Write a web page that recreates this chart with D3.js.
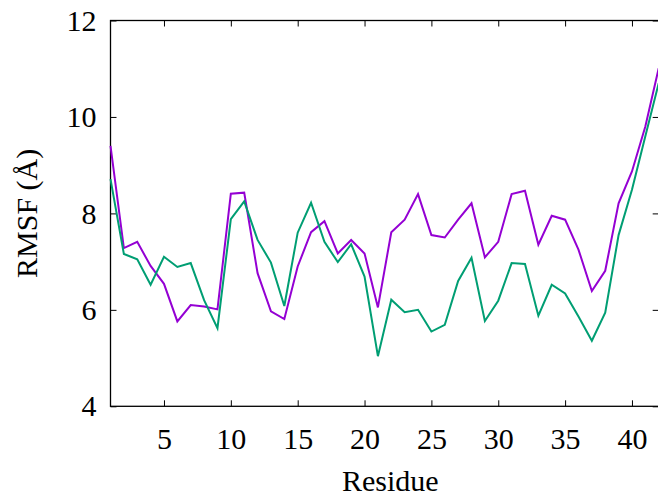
<!DOCTYPE html>
<html>
<head>
<meta charset="utf-8">
<script src="https://cdn.jsdelivr.net/npm/d3@7"></script>
<style>
  body { margin: 0; background: #fff; }
  svg text { font-family: "Liberation Serif", "DejaVu Serif", serif; fill: #000; }
</style>
</head>
<body>
<svg id="chart" width="658" height="498"></svg>
<script>
// residue numbers and RMSF values
var residues = [1,2,3,4,5,6,7,8,9,10,11,12,13,14,15,16,17,18,19,20,21,
                22,23,24,25,26,27,28,29,30,31,32,33,34,35,36,37,38,39,40,41,42];
var rmsfPurple = [9.40,7.28,7.41,6.91,6.54,5.76,6.10,6.07,6.01,8.41,8.43,6.76,5.97,5.81,
                  6.90,7.61,7.84,7.17,7.45,7.17,6.05,7.61,7.87,8.40,7.55,7.50,7.87,8.21,
                  7.09,7.41,8.40,8.47,7.35,7.95,7.87,7.25,6.39,6.81,8.21,8.87,9.80,11.01];
var rmsfGreen = [8.71,7.16,7.05,6.52,7.10,6.89,6.97,6.20,5.62,7.88,8.25,7.45,6.98,6.08,
                 7.60,8.22,7.41,6.99,7.36,6.69,5.04,6.21,5.95,6.00,5.55,5.69,6.60,7.08,
                 5.77,6.19,6.97,6.95,5.88,6.52,6.34,5.86,5.36,5.94,7.55,8.49,9.60,10.70];
var xTicks = [5,10,15,20,25,30,35,40];
var yTicks = [4,6,8,10,12];

// plot frame (note: "top" is reserved on window, so use plot* names)
var plotLeft = 110.5, plotRight = 658.7, plotTop = 20.5, plotBottom = 406.3;

var svg = d3.select("#chart");

var x = d3.scaleLinear().domain([1, 42]).range([plotLeft, plotRight]);
var y = d3.scaleLinear().domain([4, 12]).range([plotBottom, plotTop]);

// axes with inward ticks on all four sides (gnuplot style)
var xAxis = svg.append("g")
    .attr("transform", "translate(0," + plotBottom + ")")
    .call(d3.axisBottom(x).tickValues(xTicks).tickSizeInner(-6).tickSizeOuter(0).tickPadding(14));
var xTop = svg.append("g")
    .attr("transform", "translate(0," + plotTop + ")")
    .call(d3.axisTop(x).tickValues(xTicks).tickSizeInner(-6).tickSizeOuter(0).tickFormat(""));
var yAxis = svg.append("g")
    .attr("transform", "translate(" + plotLeft + ",0)")
    .call(d3.axisLeft(y).tickValues(yTicks).tickSizeInner(-6).tickSizeOuter(0).tickPadding(14));
var yRight = svg.append("g")
    .attr("transform", "translate(" + plotRight + ",0)")
    .call(d3.axisRight(y).tickValues(yTicks).tickSizeInner(-6).tickSizeOuter(0).tickFormat(""));

[xAxis, xTop, yAxis, yRight].forEach(function (a) {
  a.select(".domain").remove();
  a.selectAll(".tick line").attr("stroke", "#000").attr("stroke-width", 1);
  a.selectAll("text").style("font-size", "30px").attr("fill", "#000");
});
xAxis.selectAll("text").attr("dy", "0.71em").attr("y", 21);

// plot border
svg.append("rect")
    .attr("x", plotLeft).attr("y", plotTop)
    .attr("width", plotRight - plotLeft).attr("height", plotBottom - plotTop)
    .attr("fill", "none").attr("stroke", "#000").attr("stroke-width", 1.3);

var line = d3.line()
    .x(function (d, i) { return x(residues[i]); })
    .y(function (d) { return y(d); });

svg.append("path")
    .datum(rmsfPurple)
    .attr("d", line)
    .attr("fill", "none")
    .attr("stroke", "#9400d3")
    .attr("stroke-width", 2)
    .attr("stroke-linejoin", "miter");

svg.append("path")
    .datum(rmsfGreen)
    .attr("d", line)
    .attr("fill", "none")
    .attr("stroke", "#009e73")
    .attr("stroke-width", 2)
    .attr("stroke-linejoin", "miter");

// axis titles
svg.append("text")
    .attr("x", (plotLeft + 658) / 2 + 6)
    .attr("y", 491)
    .attr("text-anchor", "middle")
    .style("font-size", "30px")
    .text("Residue");

svg.append("text")
    .attr("transform", "translate(37," + ((plotTop + plotBottom) / 2) + ") rotate(-90)")
    .attr("text-anchor", "middle")
    .style("font-size", "30px")
    .text("RMSF (Å)");
</script>
</body>
</html>
